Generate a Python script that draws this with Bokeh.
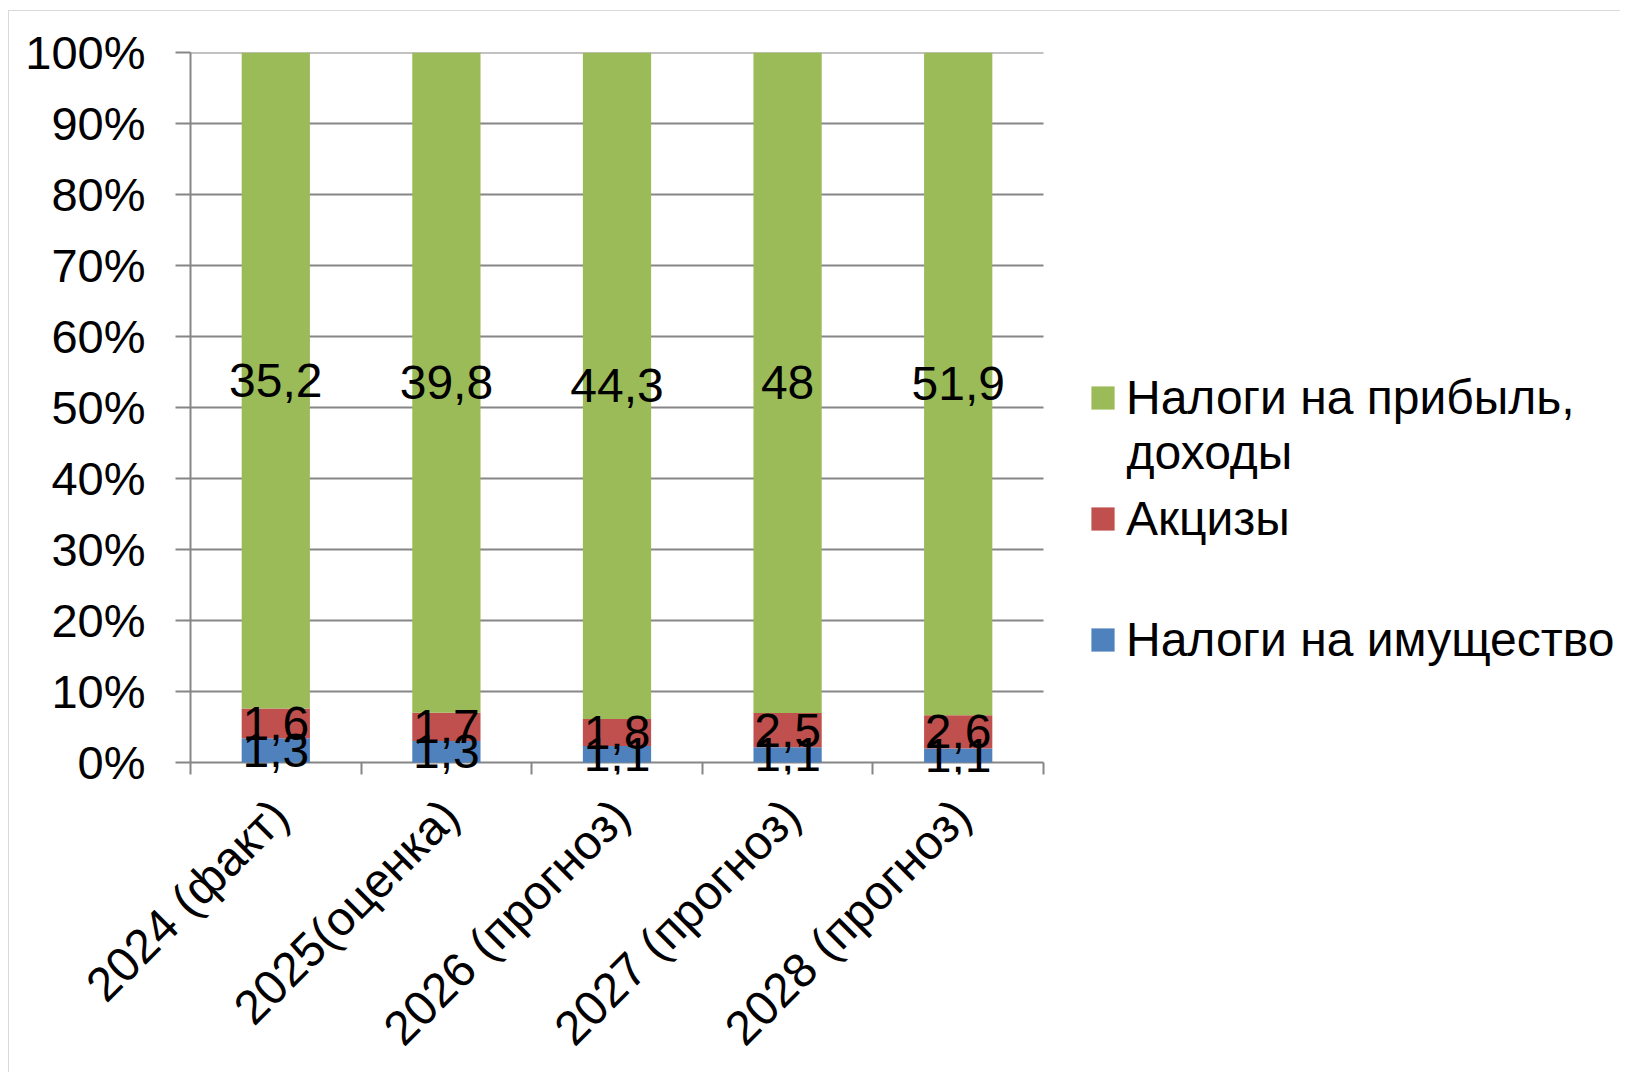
from math import pi
from bokeh.plotting import figure
from bokeh.models import ColumnDataSource, FixedTicker, NumeralTickFormatter, Legend, LegendItem, Label
from bokeh.core.properties import value
from bokeh.embed import file_html
from bokeh.resources import INLINE

categories = ["2024 (факт)", "2025(оценка)", "2026 (прогноз)", "2027 (прогноз)", "2028 (прогноз)"]
property_tax = [1.3, 1.3, 1.1, 1.1, 1.1]
excise = [1.6, 1.7, 1.8, 2.5, 2.6]
profit_tax = [35.2, 39.8, 44.3, 48, 51.9]
series_names = ["Налоги на имущество", "Акцизы", "Налоги на прибыль,"]
legend_extra_line = "доходы"
series_colors = ["#4F81BD", "#C0504D", "#9BBB59"]
y_ticks = [0, 0.1, 0.2, 0.3, 0.4, 0.5, 0.6, 0.7, 0.8, 0.9, 1.0]

FONT = "Liberation Sans"
GRID = "#868686"

# layout (pixels)
PLOT_W = 853      # width of the category area
PLOT_H = 710      # height of 0..100%
BELOW = 12        # extra frame below 0% (room for labels)
FRAME_W = 1428
n = len(categories)
px_x = n / PLOT_W
px_y = 1.0 / PLOT_H
x_end = FRAME_W * px_x
y_start = -BELOW * px_y

xs = [i + 0.5 for i in range(n)]
series = [property_tax, excise, profit_tax]
totals = [sum(s[i] for s in series) for i in range(n)]

def fmt(v):
    return ("%g" % v).replace(".", ",")

p = figure(frame_width=FRAME_W, frame_height=PLOT_H + BELOW, x_range=(0, x_end), y_range=(y_start, 1),
           output_backend="svg", toolbar_location=None,
           min_border_left=181, min_border_top=41, min_border_right=2, min_border_bottom=286)
p.outline_line_color = None
p.styles = {"margin-left": "8px", "margin-top": "10px",
            "border-left": "1px solid #d9d9d9", "border-top": "1px solid #d9d9d9"}

# grid lines over the category area only
p.segment(x0=[0] * len(y_ticks), x1=[n] * len(y_ticks), y0=y_ticks, y1=y_ticks,
          line_color=GRID, line_width=2)

renderers = []
bottoms = [0.0] * n
for vals, name, col in zip(series, series_names, series_colors):
    fr = [v / t for v, t in zip(vals, totals)]
    tops = [b + f for b, f in zip(bottoms, fr)]
    src = ColumnDataSource(dict(x=xs, bottom=bottoms, top=tops,
                                mid=[(b + t) / 2 for b, t in zip(bottoms, tops)],
                                label=[fmt(v) for v in vals]))
    r = p.vbar(x="x", width=0.4, bottom="bottom", top="top", source=src,
               fill_color=col, line_color=None)
    renderers.append((r, src))
    bottoms = tops

for r, src in renderers:
    p.text(x="x", y="mid", text="label", source=src, text_align="center",
           text_baseline="middle", text_font=value(FONT), text_font_size="48px",
           text_color="black")

# y axis
p.yaxis.ticker = FixedTicker(ticks=y_ticks)
p.yaxis.bounds = (0, 1)
p.yaxis.formatter = NumeralTickFormatter(format="0%")
p.yaxis.major_label_text_font = FONT
p.yaxis.major_label_text_font_size = "47px"
p.yaxis.major_label_text_color = "black"
p.yaxis.major_tick_out = 15
p.yaxis.major_tick_in = 0
p.yaxis.minor_tick_out = 0
p.yaxis.minor_tick_in = 0
p.yaxis.major_label_standoff = 30
p.yaxis.axis_line_color = GRID
p.yaxis.axis_line_width = 2
p.yaxis.major_tick_line_color = GRID
p.yaxis.major_tick_line_width = 2

# x axis
shift = 4 * px_x
p.xaxis.ticker = FixedTicker(ticks=[x + shift for x in xs], minor_ticks=list(range(n + 1)))
p.xaxis.major_label_overrides = {x + shift: c for x, c in zip(xs, categories)}
p.xaxis.major_label_orientation = pi / 4
p.xaxis.major_label_text_font = FONT
p.xaxis.major_label_text_font_size = "48px"
p.xaxis.major_label_text_color = "black"
p.xaxis.major_tick_out = 0
p.xaxis.major_tick_in = 0
p.xaxis.minor_tick_out = 0
p.xaxis.minor_tick_in = BELOW
p.xaxis.minor_tick_line_color = GRID
p.xaxis.minor_tick_line_width = 2
p.xaxis.axis_line_color = None
p.xaxis.major_label_standoff = 33

p.xgrid.grid_line_color = None
p.ygrid.grid_line_color = None

# legends (blue, red, green) – positions in screen px from frame bottom-left
LEG_X = 898
leg_pos = [(LEG_X, 107), (LEG_X, 228), (LEG_X, 349)]
for (r, _), name, pos in zip(renderers, series_names, leg_pos):
    lg = Legend(items=[LegendItem(label=name, renderers=[r])], location=pos,
                padding=0, margin=0, border_line_color=None, background_fill_alpha=0,
                glyph_width=29, glyph_height=29, label_standoff=9,
                label_text_font=FONT, label_text_font_size="48px",
                label_text_color="black")
    p.add_layout(lg, "center")

# second line of the green legend entry
p.add_layout(Label(x=(LEG_X + 38) * px_x, y=(BELOW + 310) * px_y + y_start, text=legend_extra_line,
                   text_font=FONT, text_font_size="48px", text_color="black",
                   text_align="left", text_baseline="middle"))

open("out.html", "w").write(file_html(p, INLINE))
